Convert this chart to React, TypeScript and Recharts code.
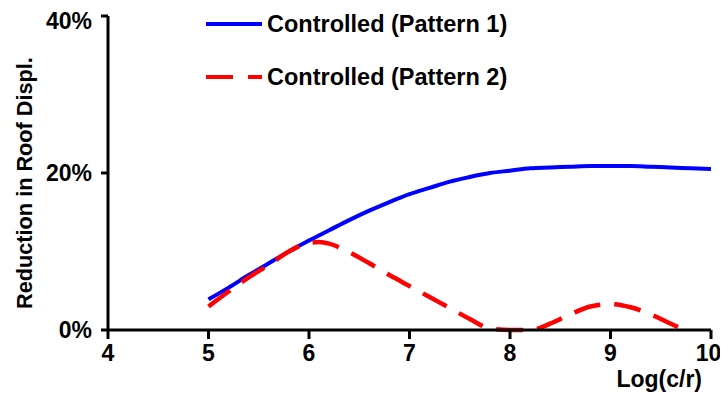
import React from 'react'
import { LineChart, Line, XAxis, YAxis, Legend } from 'recharts'

// Log(c/r) positions and reduction (%)
const pattern1Log = [5.0, 5.2, 5.4, 5.6, 5.8, 6.0, 6.2, 6.4, 6.6, 6.8, 7.0, 7.2, 7.4, 7.6, 7.8, 8.0, 8.2, 8.4, 8.6, 8.8, 9.0, 9.2, 9.4, 9.6, 9.8, 10.0]
const pattern1Reduction = [3.9, 5.4, 7.0, 8.5, 10.0, 11.4, 12.7, 14.0, 15.2, 16.3, 17.3, 18.1, 18.9, 19.5, 20.0, 20.3, 20.6, 20.7, 20.8, 20.9, 20.9, 20.9, 20.8, 20.7, 20.6, 20.5]

const pattern2Log = [5.0, 5.2, 5.4, 5.6, 5.8, 6.0, 6.1, 6.2, 6.4, 6.6, 6.8, 7.0, 7.2, 7.4, 7.6, 7.8, 8.0, 8.2, 8.4, 8.6, 8.8, 9.0, 9.2, 9.4, 9.6, 9.7]
const pattern2Reduction = [3.0, 4.9, 6.7, 8.3, 10.0, 11.1, 11.2, 11.0, 9.9, 8.5, 7.0, 5.6, 4.2, 2.8, 1.4, 0.2, 0, 0, 0.8, 2.0, 3.0, 3.3, 2.9, 2.0, 0.8, 0.2]

const xTicks = [4, 5, 6, 7, 8, 9, 10]
const yTicks = [0, 20, 40]

const seriesNames = ['Controlled (Pattern 1)', 'Controlled (Pattern 2)']

const FONT = '"Liberation Sans", Arial, sans-serif'

const pattern1Data = pattern1Log.map((x, i) => ({ x, y: pattern1Reduction[i] }))
const pattern2Data = pattern2Log.map((x, i) => ({ x, y: pattern2Reduction[i] }))

function LegendBox() {
  const rows = [
    { name: seriesNames[0], color: '#0000ff', dash: undefined },
    { name: seriesNames[1], color: '#ff0000', dash: '27 15' }
  ]
  return (
    <div style={{ fontFamily: FONT, fontWeight: 'bold', fontSize: 23.5, color: '#000', textAlign: 'left' }}>
      {rows.map((r, i) => (
        <div key={i} style={{ display: 'flex', alignItems: 'center', height: 32, marginBottom: i === 0 ? 21 : 0 }}>
          <svg width={56} height={8} style={{ marginRight: 5 }}>
            <line x1={0} y1={4} x2={56} y2={4} stroke={r.color} strokeWidth={4} strokeDasharray={r.dash} />
          </svg>
          <span style={{ whiteSpace: 'nowrap' }}>{r.name}</span>
        </div>
      ))}
    </div>
  )
}

export default function App() {
  const tickStyle = { fill: '#000', fontSize: 23, fontWeight: 'bold', fontFamily: FONT }
  return (
    <LineChart width={712} height={395} margin={{ top: 8, right: 9, left: 40, bottom: 3 }}>
      <XAxis
        type="number"
        dataKey="x"
        domain={[4, 10]}
        ticks={xTicks}
        allowDataOverflow
        height={70}
        tick={tickStyle}
        tickSize={9}
        tickMargin={6}
        axisLine={{ stroke: '#000', strokeWidth: 3 }}
        tickLine={{ stroke: '#000', strokeWidth: 3 }}
        label={{
          content: ({ viewBox }: any) => (
            <text
              x={viewBox.x + viewBox.width - 9}
              y={viewBox.y + 57}
              textAnchor="end"
              fill="#000"
              fontSize={23}
              fontWeight="bold"
              fontFamily={FONT}
            >
              Log(c/r)
            </text>
          )
        }}
      />
      <YAxis
        type="number"
        domain={[0, 40]}
        ticks={yTicks}
        width={60}
        tick={tickStyle}
        tickFormatter={(v: number) => `${v}%`}
        tickSize={7}
        tickMargin={9}
        axisLine={{ stroke: '#000', strokeWidth: 3 }}
        tickLine={{ stroke: '#000', strokeWidth: 3 }}
        label={{
          content: ({ viewBox }: any) => {
            const cx = viewBox.x - 16
            const cy = viewBox.y + viewBox.height / 2 + 10
            return (
              <text
                x={cx}
                y={cy}
                transform={`rotate(-90 ${cx} ${cy})`}
                textAnchor="middle"
                fill="#000"
                fontSize={21.7}
                fontWeight="bold"
                fontFamily={FONT}
              >
                Reduction in Roof Displ.
              </text>
            )
          }
        }}
      />
      <Legend
        layout="horizontal"
        verticalAlign="middle"
        align="center"
        content={() => <LegendBox />}
        wrapperStyle={{ top: 0, left: 198, width: 330 }}
      />
      <Line
        data={pattern1Data}
        dataKey="y"
        type="monotone"
        stroke="#0000ff"
        strokeWidth={4}
        dot={false}
        isAnimationActive={false}
        name={seriesNames[0]}
      />
      <Line
        data={pattern2Data}
        dataKey="y"
        type="monotone"
        stroke="#ff0000"
        strokeWidth={4.5}
        strokeDasharray="27 14"
        dot={false}
        isAnimationActive={false}
        name={seriesNames[1]}
      />
    </LineChart>
  )
}
